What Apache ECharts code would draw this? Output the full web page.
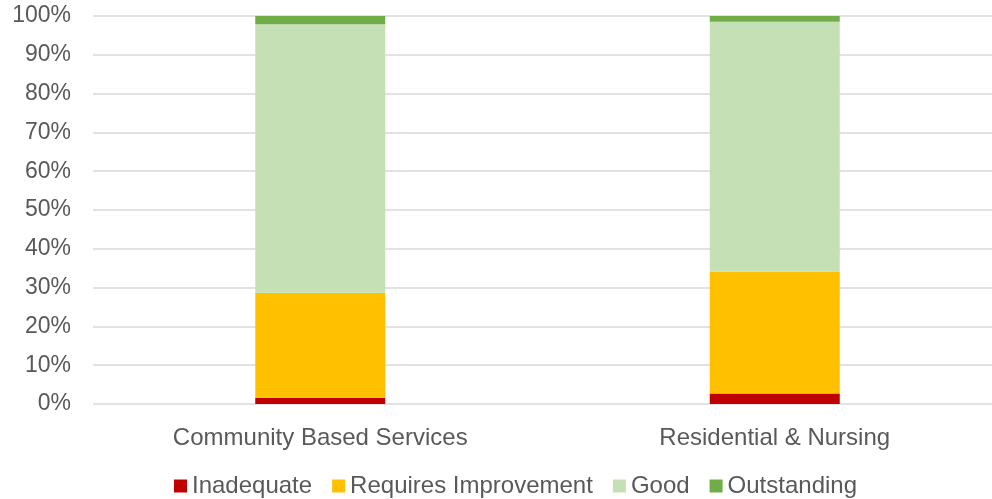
<!DOCTYPE html>
<html>
<head>
<meta charset="utf-8">
<script src="https://cdn.jsdelivr.net/npm/echarts@6/dist/echarts.min.js"></script>
<style>
html, body { margin: 0; padding: 0; background: #fff; overflow: hidden; }
/* plot area runs past the right edge of the picture, as in the original */
#chart { width: 1002px; height: 499px; }
</style>
</head>
<body>
<div id="chart"></div>
<script>
// data (percent of services per rating)
const categories = ['Community Based Services', 'Residential & Nursing']
const inadequate = [1.6, 2.7]
const requiresImprovement = [27.1, 31.4]
const good = [69.2, 64.4]
const outstanding = [2.1, 1.5]
const yTicks = [0, 10, 20, 30, 40, 50, 60, 70, 80, 90, 100]

const chart = echarts.init(document.getElementById('chart'))
const txt = { fontFamily: 'Liberation Sans, Arial, sans-serif', fontSize: 24, color: '#595959' }

function bar (name, data, color) {
  return {
    name: name,
    type: 'bar',
    stack: 'total',
    data: data,
    barWidth: 130,
    itemStyle: { color: color },
    emphasis: { disabled: true }
  }
}

chart.setOption({
  animation: false,
  textStyle: txt,
  grid: { left: 93, right: 0, top: 16, bottom: 95, containLabel: false },
  legend: {
    left: 169,
    top: 469,
    itemWidth: 13,
    itemHeight: 13,
    itemGap: 20,
    icon: 'rect',
    textStyle: txt,
    data: ['Inadequate', 'Requires Improvement', 'Good', 'Outstanding']
  },
  xAxis: {
    type: 'category',
    data: categories,
    axisLine: { show: false },
    axisTick: { show: false },
    axisLabel: Object.assign({}, txt, { margin: 22 })
  },
  yAxis: {
    type: 'value',
    min: yTicks[0],
    max: yTicks[yTicks.length - 1],
    interval: 10,
    axisLine: { show: false },
    axisTick: { show: false },
    splitLine: { lineStyle: { color: '#d9d9d9', width: 1.5 } },
    axisLabel: Object.assign({}, txt, { fontSize: 23, margin: 22, padding: [5, 0, 0, 0], formatter: '{value}%' })
  },
  series: [
    bar('Inadequate', inadequate, '#c00000'),
    bar('Requires Improvement', requiresImprovement, '#ffc000'),
    bar('Good', good, '#c5e0b4'),
    bar('Outstanding', outstanding, '#70ad47')
  ]
})
</script>
</body>
</html>
